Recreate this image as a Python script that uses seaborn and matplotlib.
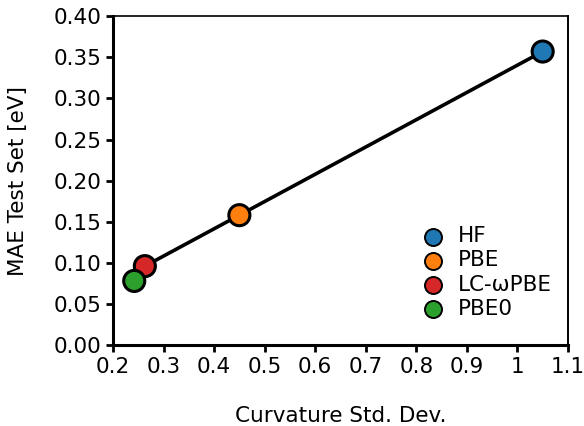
import matplotlib
matplotlib.use("Agg")
import matplotlib.pyplot as plt
import seaborn as sns
import pandas as pd

# curvature std. dev. vs MAE on the test set
methods = ["HF", "PBE", "LC-\u03c9PBE", "PBE0"]
curv_std = [1.05, 0.45, 0.263, 0.242]
mae_test = [0.357, 0.158, 0.096, 0.078]
colors = ["#1f77b4", "#ff7f0e", "#d62728", "#2ca02c"]

# the line joins HF, PBE and LC-wPBE
line_methods = ["HF", "PBE", "LC-\u03c9PBE"]


def main():
    sns.set_style("ticks")
    plt.rcParams["font.family"] = ["DejaVu Sans"]
    plt.rcParams["text.color"] = "black"
    plt.rcParams["axes.labelcolor"] = "black"
    plt.rcParams["xtick.color"] = "black"
    plt.rcParams["ytick.color"] = "black"

    df = pd.DataFrame({"method": methods, "curv": curv_std, "mae": mae_test})
    line_df = df[df["method"].isin(line_methods)]

    fig = plt.figure(figsize=(5.84, 4.26), dpi=100)
    ax = fig.add_axes([0.1935, 0.190, 0.779, 0.772])

    sns.lineplot(data=line_df, x="curv", y="mae", color="black", lw=2.6,
                 sort=False, ax=ax, zorder=2)
    sns.scatterplot(data=df, x="curv", y="mae", hue="method", hue_order=methods,
                    palette=colors, s=230, edgecolor="black", linewidth=2.2,
                    ax=ax, zorder=3, legend=False)

    # legend with smaller markers
    for m, c in zip(methods, colors):
        ax.scatter([], [], s=150, color=c, edgecolor="black", linewidth=1.4, label=m)
    ax.legend(loc="lower right", bbox_to_anchor=(1.007, 0.02), frameon=False,
              fontsize=15.5, handletextpad=0.15, labelspacing=0.2, borderpad=0.4)

    ax.set_xlim(0.2, 1.1)
    ax.set_ylim(0.0, 0.40)
    ax.set_xticks([0.2, 0.3, 0.4, 0.5, 0.6, 0.7, 0.8, 0.9, 1.0, 1.1])
    ax.set_xticklabels(["0.2", "0.3", "0.4", "0.5", "0.6", "0.7", "0.8", "0.9", "1", "1.1"])
    ax.set_yticks([0.0, 0.05, 0.10, 0.15, 0.20, 0.25, 0.30, 0.35, 0.40])
    ax.set_yticklabels([f"{v:.2f}" for v in ax.get_yticks()])
    ax.tick_params(labelsize=15.5, width=2, length=5, color="black")

    ax.set_xlabel("Curvature Std. Dev.", fontsize=15.5, labelpad=21)
    ax.set_ylabel("MAE Test Set [eV]", fontsize=15.5, labelpad=18)

    ax.spines["left"].set_linewidth(2.2)
    ax.spines["bottom"].set_linewidth(2.2)
    ax.spines["top"].set_linewidth(1.2)
    ax.spines["right"].set_linewidth(1.4)
    for s in ax.spines.values():
        s.set_color("black")

    fig.savefig("out.png", dpi=100)


if __name__ == "__main__":
    main()
